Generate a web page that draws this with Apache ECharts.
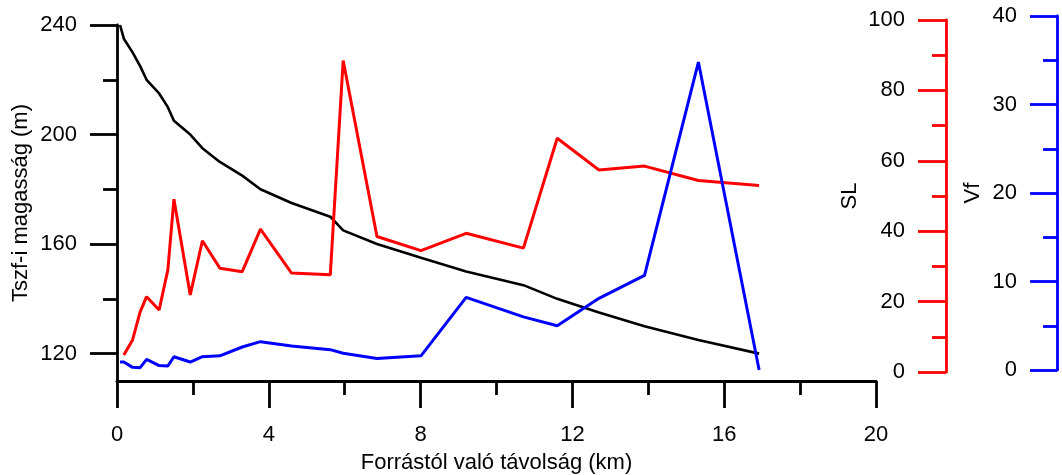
<!DOCTYPE html>
<html>
<head>
<meta charset="utf-8">
<script src="https://cdn.jsdelivr.net/npm/echarts@6/dist/echarts.min.js"></script>
<style>
  html, body { margin: 0; padding: 0; background: #fff; }
  #chart { width: 1062px; height: 475px; }
</style>
</head>
<body>
<div id="chart"></div>
<script>
// Stations along the stream (km from the source), one per contour crossing
const distance = [0.08, 0.18, 0.41, 0.61, 0.78, 1.11, 1.34, 1.50, 1.93, 2.25, 2.71, 3.30, 3.78,
                  4.60, 5.62, 5.96, 6.85, 8.01, 9.20, 10.71, 11.60, 12.70, 13.90, 15.32, 16.92];
// Elevation of the channel at each station (m a.s.l.)
const elevation = [240, 235, 230, 225, 220, 215, 210, 205, 200, 195, 190, 185, 180,
                   175, 170, 165, 160, 155, 150, 145, 140, 135, 130, 125, 120];
// Stream-length gradient index (SL); no value at the first station
const slIndex = [null, 4.8, 9.1, 17.1, 21.4, 17.6, 29.0, 49.1, 21.9, 37.3, 29.5, 28.5, 40.6,
                 28.1, 27.6, 88.5, 38.5, 34.5, 39.4, 35.2, 66.4, 57.4, 58.5, 54.4, 53.0];
// Valley floor width to height ratio (Vf)
const vfRatio = [0.9, 0.9, 0.3, 0.26, 1.2, 0.5, 0.45, 1.5, 0.9, 1.5, 1.6, 2.6, 3.2,
                 2.7, 2.3, 1.9, 1.3, 1.6, 8.2, 6.0, 5.0, 8.1, 10.7, 34.8, 0];

// Axis ticks and titles
const xTitle = 'Forrástól való távolság (km)';
const elevTitle = 'Tszf-i magasság (m)';
const slTitle = 'SL';
const vfTitle = 'Vf';
const elevMajor = [120, 160, 200, 240];
const elevMinor = [140, 180, 220];

const FONT = 'Liberation Sans, Arial, Helvetica, sans-serif';
const FS = 22;

function pairs(xs, ys) {
  const out = [];
  for (let i = 0; i < xs.length; i++) {
    if (ys[i] !== null && ys[i] !== undefined) out.push([xs[i], ys[i]]);
  }
  return out;
}

const chart = echarts.init(document.getElementById('chart'), null, { renderer: 'canvas' });

const hiddenX = (gi) => ({
  type: 'value', gridIndex: gi, min: 0, max: 20, show: false
});

const nameStyle = { color: '#000', fontSize: FS, fontFamily: FONT, verticalAlign: 'middle', align: 'center' };

const option = {
  backgroundColor: '#ffffff',
  animation: false,
  grid: [
    { left: 117, right: 186, top: 25, bottom: 94, outerBoundsMode: 'none', containLabel: false },
    { left: 117, right: 186, top: 20, bottom: 103, outerBoundsMode: 'none', containLabel: false },
    { left: 117, right: 186, top: 16, bottom: 105, outerBoundsMode: 'none', containLabel: false }
  ],
  xAxis: [
    {
      type: 'value', gridIndex: 0, min: 0, max: 20, interval: 4,
      name: xTitle, nameLocation: 'middle', nameGap: 82, nameMoveOverlap: false,
      nameTextStyle: nameStyle,
      axisLine: { show: true, onZero: false, lineStyle: { color: '#000', width: 2.8 } },
      axisTick: { show: true, length: 27, lineStyle: { color: '#000', width: 2.8 } },
      minorTick: { show: true, splitNumber: 2, length: 14, lineStyle: { color: '#000', width: 2.8 } },
      axisLabel: { color: '#000', fontSize: FS, fontFamily: FONT, margin: 43 },
      splitLine: { show: false }
    },
    hiddenX(1),
    hiddenX(2)
  ],
  yAxis: [
    {
      type: 'value', gridIndex: 0, position: 'left', min: 110, max: 240,
      name: elevTitle, nameLocation: 'middle', nameGap: 96, nameMoveOverlap: false,
      nameTextStyle: nameStyle,
      axisLine: { show: true, onZero: false, lineStyle: { color: '#000', width: 2.8 } },
      axisTick: { show: true, length: 27, customValues: elevMajor, lineStyle: { color: '#000', width: 2.8 } },
      axisLabel: { color: '#000', fontSize: FS, fontFamily: FONT, margin: 40, customValues: elevMajor },
      splitLine: { show: false }
    },
    {
      type: 'value', gridIndex: 0, position: 'left', min: 110, max: 240,
      axisLine: { show: false },
      axisTick: { show: true, length: 14, customValues: elevMinor, lineStyle: { color: '#000', width: 2.8 } },
      axisLabel: { show: false },
      splitLine: { show: false }
    },
    {
      type: 'value', gridIndex: 1, position: 'right', offset: 70, min: 0, max: 100, interval: 20,
      name: slTitle, nameLocation: 'middle', nameGap: -96, nameMoveOverlap: false,
      nameTextStyle: nameStyle,
      axisLine: { show: true, onZero: false, lineStyle: { color: '#ff0000', width: 2.8 } },
      axisTick: { show: true, inside: true, length: 28, lineStyle: { color: '#ff0000', width: 2.8 } },
      minorTick: { show: true, splitNumber: 2, length: 14, lineStyle: { color: '#ff0000', width: 2.8 } },
      axisLabel: { inside: true, color: '#000', fontSize: FS, fontFamily: FONT, margin: 41 },
      splitLine: { show: false }
    },
    {
      type: 'value', gridIndex: 2, position: 'right', offset: 181, min: 0, max: 40, interval: 10,
      name: vfTitle, nameLocation: 'middle', nameGap: -84, nameMoveOverlap: false,
      nameTextStyle: nameStyle,
      axisLine: { show: true, onZero: false, lineStyle: { color: '#0000ff', width: 2.8 } },
      axisTick: { show: true, inside: true, length: 27, lineStyle: { color: '#0000ff', width: 2.8 } },
      minorTick: { show: true, splitNumber: 2, length: 14, lineStyle: { color: '#0000ff', width: 2.8 } },
      axisLabel: { inside: true, color: '#000', fontSize: FS, fontFamily: FONT, margin: 40 },
      splitLine: { show: false }
    }
  ],
  series: [
    {
      name: 'Magasság', type: 'line', xAxisIndex: 0, yAxisIndex: 0,
      data: pairs(distance, elevation), showSymbol: false, symbol: 'none',
      lineStyle: { color: '#000000', width: 2.6 }, z: 3
    },
    {
      name: 'SL', type: 'line', xAxisIndex: 1, yAxisIndex: 2,
      data: pairs(distance, slIndex), showSymbol: false, symbol: 'none',
      lineStyle: { color: '#ff0000', width: 3 }, z: 4
    },
    {
      name: 'Vf', type: 'line', xAxisIndex: 2, yAxisIndex: 3,
      data: pairs(distance, vfRatio), showSymbol: false, symbol: 'none',
      lineStyle: { color: '#0000ff', width: 3 }, z: 5
    }
  ]
};

chart.setOption(option);
</script>
</body>
</html>
